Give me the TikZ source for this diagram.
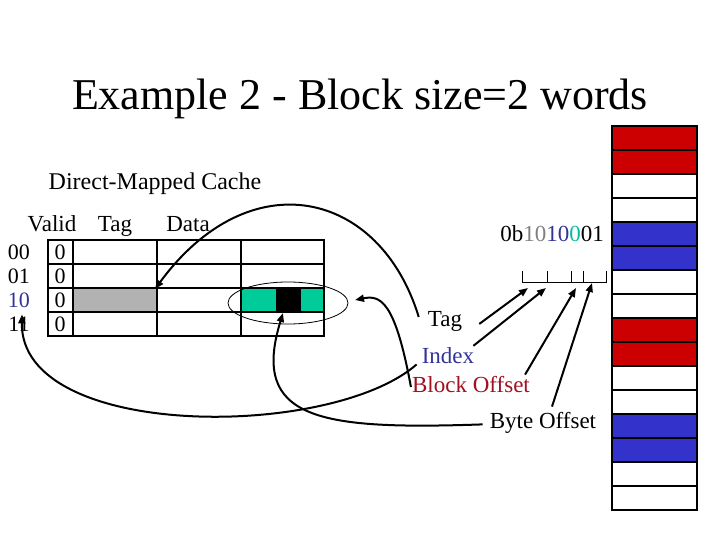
\documentclass[tikz,border=0pt]{standalone}
\usepackage{fontspec}
\usepackage{xcolor}
\usetikzlibrary{arrows.meta}
\setmainfont{Liberation Serif}

\definecolor{memred}{RGB}{204,0,0}
\definecolor{memblue}{RGB}{51,51,204}
\definecolor{cellteal}{RGB}{0,204,153}
\definecolor{cellgray}{RGB}{178,178,178}
\definecolor{idxblue}{RGB}{51,51,153}
\definecolor{boffred}{RGB}{160,16,32}
\definecolor{addrgray}{RGB}{128,128,128}
\definecolor{addrteal}{RGB}{0,190,160}

\begin{document}
\begin{tikzpicture}[x=1pt, y=-1pt,
    lbl/.style={inner sep=1pt, anchor=base, font=\fontsize{23}{27}\selectfont},
    cellnum/.style={inner sep=1pt, anchor=base, font=\fontsize{22}{26}\selectfont},
    curvearr/.style={line width=2pt, -{Triangle[length=9pt,width=7pt]}},
    bitarr/.style={line width=2pt, -{Triangle[length=9pt,width=7pt]}}]
\useasboundingbox (0,0) rectangle (720,540);

% title and headings
\node[inner sep=1pt, anchor=base, font=\fontsize{44}{50}\selectfont] (title) at (360,110) {Example 2 - Block size=2 words};
\node[lbl, font=\fontsize{24}{28}\selectfont] (cachename) at (155,190) {Direct-Mapped Cache};
\node[lbl] (hvalid) at (52,231) {Valid};
\node[lbl] (htag) at (115,231) {Tag};
\node[lbl] (hdata) at (188,231) {Data};

% cache contents
\fill[cellgray] (73,288) rectangle (157,312);
\fill[cellteal] (241,288) rectangle (324,312);
\fill[black] (276,288) rectangle (301,312);
\draw[line width=1.2pt] (48,240) rectangle (324,336);
\foreach \y in {264,288,312}
  \draw[line width=1.2pt] (48,\y) -- (324,\y);
\foreach \x in {73,157,241}
  \draw[line width=1.2pt] (\x,240) -- (\x,336);
\foreach \lab/\col [count=\i from 0] in {00/black,01/black,10/idxblue,11/black} {
  \node[cellnum, text=\col] (row\lab) at (19,{259+24*\i}) {\lab};
  \node[cellnum] (valid\lab) at (60,{259+24*\i}) {0};
}
\draw[line width=0.8pt] (288,303) ellipse [x radius=60pt, y radius=21pt];

% memory
\foreach \c [count=\i from 0] in {memred,memred,white,white,memblue,memblue,white,white,
                                  memred,memred,white,white,memblue,memblue,white,white}
  \draw[fill=\c, line width=1.2pt] (612,{126+24*\i}) rectangle +(85,24);

% address and its fields
\node[lbl] (addr) at (552,241) {0b\textcolor{addrgray}{10}\textcolor{idxblue}{10}\textcolor{addrteal}{0}01};
\draw[line width=1pt] (522,271) |- (606,282) -- (606,271);
\foreach \x in {547,571,583}
  \draw[line width=1pt] (\x,271) -- (\x,282);
\coordinate (tagbits) at (528,288);
\coordinate (idxbits) at (546,288);
\coordinate (boffbits) at (576,288);
\coordinate (byteobits) at (592,283);

\node[lbl] (tagl) at (445,326) {Tag};
\node[lbl, text=idxblue] (idxl) at (448,363) {Index};
\node[lbl, text=boffred] (boffl) at (471,392) {Block Offset};
\node[lbl] (byteol) at (543,428) {Byte Offset};

\draw[bitarr] ([xshift=16pt,yshift=-3pt]tagl.east) -- (tagbits);
\draw[bitarr] ([xshift=-2pt]idxl.north east) -- (idxbits);
\draw[bitarr] ([xshift=-6pt]boffl.north east) -- (boffbits);
\draw[bitarr] ([xshift=9pt,yshift=4pt]byteol.north) -- (byteobits);

% lookups
\coordinate (graycell) at (155,289);
\coordinate (ringedge) at (355,300);
\coordinate (wordcell) at (283,313);
\draw[curvearr] ([xshift=-8pt,yshift=4pt]tagl.west) .. controls (380,190) and (250,160) .. (graycell);
\draw[curvearr] ([xshift=-4pt]idxl.south west) .. controls (330,440) and (20,440) .. ([xshift=3pt,yshift=-6pt]row10.south);
\draw[curvearr] ([yshift=-3pt]boffl.west) .. controls (395,300) and (380,295) .. (ringedge);
\draw[curvearr] ([xshift=-6pt,yshift=-2pt]byteol.west) .. controls (320,430) and (250,420) .. (wordcell);
\end{tikzpicture}
\end{document}
